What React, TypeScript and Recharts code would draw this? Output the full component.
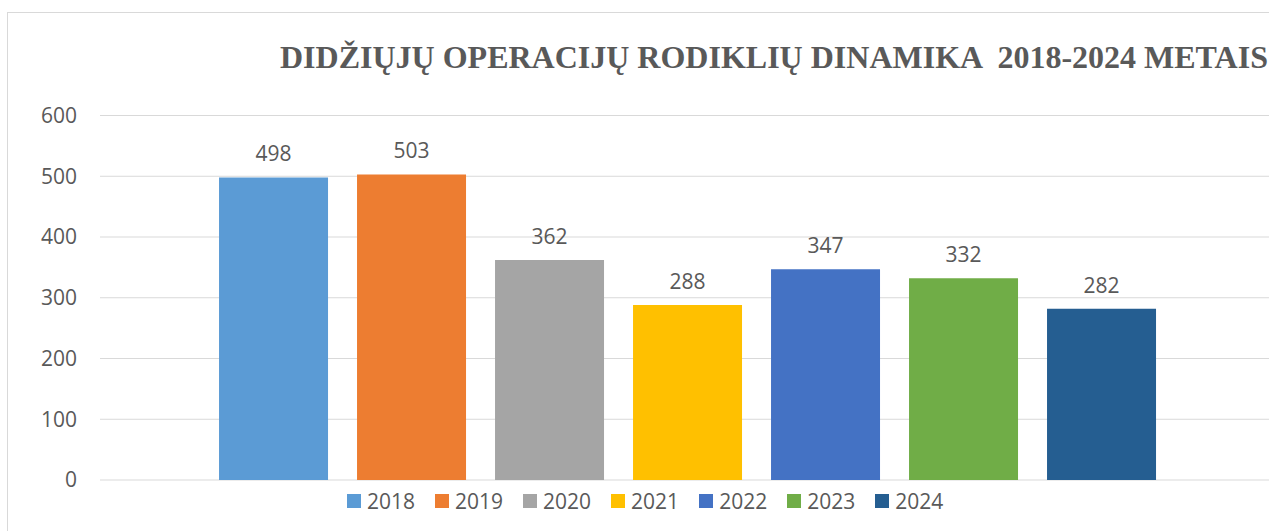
import React from 'react';
import { BarChart, Bar, XAxis, YAxis, CartesianGrid, LabelList, Legend } from 'recharts';

const years = ['2018', '2019', '2020', '2021', '2022', '2023', '2024'];
const values = [498, 503, 362, 288, 347, 332, 282];
const colors = ['#5B9BD5', '#ED7D31', '#A5A5A5', '#FFC000', '#4472C4', '#70AD47', '#255E91'];
const yTicks = [0, 100, 200, 300, 400, 500, 600];
const title = 'DIDŽIŲJŲ OPERACIJŲ RODIKLIŲ DINAMIKA  2018-2024 METAIS';

const row: Record<string, number | string> = { name: 'Operacijos' };
years.forEach((y, i) => {
  row[y] = values[i];
});
const data = [row];

const textColor = '#595959';
const font = "'Open Sans', 'Noto Sans', sans-serif";

const renderLegend = (props: any) => {
  const payload = props.payload || [];
  return (
    <div style={{ display: 'flex', alignItems: 'center', whiteSpace: 'nowrap' }}>
      {payload.map((entry: any) => (
        <div key={entry.value} style={{ display: 'flex', alignItems: 'center', marginRight: 20 }}>
          <div style={{ width: 14, height: 14, background: entry.color, marginRight: 6 }} />
          <span style={{ fontFamily: font, fontSize: 21, lineHeight: '21px', color: textColor }}>{entry.value}</span>
        </div>
      ))}
    </div>
  );
};

export default function App() {
  return (
    <div style={{ position: 'fixed', left: 0, top: 0, width: 1269, height: 531, overflow: 'hidden', background: '#fff', fontFamily: font }}>
      <div style={{ position: 'absolute', left: 7, top: 12, width: 1400, height: 700, border: '1px solid #d9d9d9', boxSizing: 'border-box' }} />
      <div style={{ position: 'absolute', left: 0, top: 0 }}>
        <BarChart
          width={1290}
          height={531}
          data={data}
          margin={{ top: 115.5, right: 15, left: 0, bottom: 51 }}
          barCategoryGap="10.13%"
          barGap={29}
        >
          <CartesianGrid vertical={false} stroke="#d9d9d9" strokeWidth={1.2} />
          <XAxis dataKey="name" height={0} tick={false} tickLine={false} axisLine={{ stroke: '#d9d9d9', strokeWidth: 1.2 }} />
          <YAxis
            width={100}
            domain={[0, 600]}
            ticks={yTicks}
            interval={0}
            axisLine={false}
            tickLine={false}
            tickSize={0}
            tickMargin={23}
            tick={{ fill: textColor, fontSize: 21, fontFamily: font }}
          />
          <Legend
            layout="horizontal"
            verticalAlign="middle"
            align="center"
            content={renderLegend}
            wrapperStyle={{ left: 347, top: 490.5, bottom: 'auto', width: 'auto', height: 'auto' }}
          />
          {years.map((y, i) => (
            <Bar key={y} dataKey={y} name={y} fill={colors[i]} isAnimationActive={false}>
              <LabelList dataKey={y} position="top" offset={16} fill={textColor} fontSize={21} fontFamily={font} />
            </Bar>
          ))}
        </BarChart>
      </div>
      <svg style={{ position: 'absolute', left: 0, top: 0, pointerEvents: 'none' }} width={1269} height={100}>
        <text x={280} y={68} fill={textColor} fontFamily="'Liberation Serif', 'Times New Roman', serif" fontWeight="bold" fontSize={32} style={{ whiteSpace: 'pre' }} xmlSpace="preserve">
          {title}
        </text>
      </svg>
    </div>
  );
}
